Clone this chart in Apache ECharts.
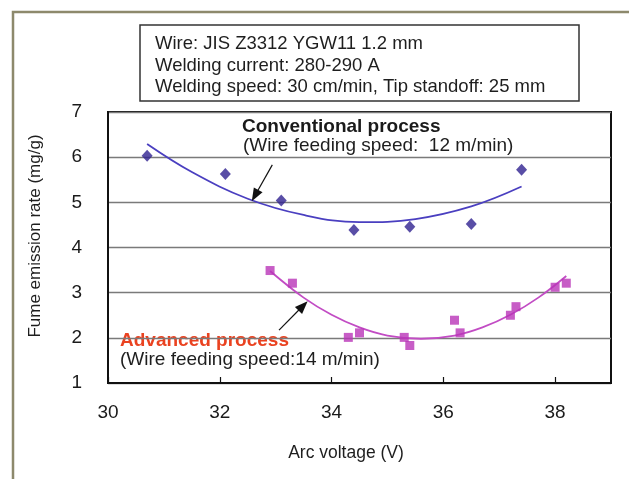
<!DOCTYPE html>
<html>
<head>
<meta charset="utf-8">
<script src="https://cdn.jsdelivr.net/npm/echarts@6/dist/echarts.min.js"></script>
<style>
  html, body { margin: 0; padding: 0; background: #fff; }
  #chart { width: 629px; height: 479px; }
</style>
</head>
<body>
<div id="chart"></div>
<script>
// Measured fume emission, conventional process (12 m/min wire feed)
const voltageConv = [30.7, 32.1, 33.1, 34.4, 35.4, 36.5, 37.4];
const fumeConv    = [6.03, 5.63, 5.04, 4.39, 4.46, 4.52, 5.72];

// Measured fume emission, advanced process (14 m/min wire feed)
const voltageAdv = [32.9, 33.3, 34.3, 34.5, 35.3, 35.4, 36.2, 36.3, 37.2, 37.3, 38.0, 38.2];
const fumeAdv    = [3.49, 3.21, 2.01, 2.11, 2.01, 1.83, 2.39, 2.11, 2.50, 2.69, 3.12, 3.21];

// Trend curves through each data set
const trendConvX = [30.7, 31.5, 32.5, 33.5, 34.5, 35.5, 36.5, 37.4];
const trendConvY = [6.29, 5.67, 5.08, 4.72, 4.56, 4.63, 4.91, 5.35];
const trendAdvX  = [32.9, 33.5, 34.0, 34.5, 35.0, 35.6, 36.2, 36.7, 37.2, 37.7, 38.2];
const trendAdvY  = [3.48, 2.89, 2.51, 2.23, 2.05, 1.98, 2.05, 2.23, 2.51, 2.89, 3.37];

// Axis ranges and tick spacing
const xRange = [30, 39], xStep = 2;
const yRange = [1, 7],   yStep = 1;

// Pointer arrows (start -> tip) in data units
const arrowConv = [[32.94, 5.83], [32.63, 5.15]];
const arrowAdv  = [[33.06, 2.17], [33.49, 2.71]];

const infoLines = [
  'Wire: JIS Z3312 YGW11 1.2 mm',
  'Welding current: 280-290 A',
  'Welding speed: 30 cm/min, Tip standoff: 25 mm'
];

const FONT = '"Liberation Sans", Arial, sans-serif';
const zip = (xs, ys) => xs.map((x, i) => [x, ys[i]]);

const chart = echarts.init(document.getElementById('chart'), null, { renderer: 'canvas' });

const arrowLine = (pts) => ({
  silent: true,
  symbol: ['none', 'triangle'],
  symbolSize: [10, 13],
  label: { show: false },
  lineStyle: { color: '#111', width: 1.2, type: 'solid' },
  data: [[{ coord: pts[0] }, { coord: pts[1] }]]
});

chart.setOption({
  animation: false,
  backgroundColor: '#ffffff',
  grid: {
    left: 108, right: 18, top: 112, bottom: 96,
    show: true, borderColor: '#111', borderWidth: 2, backgroundColor: 'transparent'
  },
  xAxis: {
    type: 'value', min: xRange[0], max: xRange[1], interval: xStep,
    axisLine: { lineStyle: { color: '#111', width: 2 } },
    axisTick: { inside: true, length: 6, lineStyle: { color: '#111', width: 1.2 } },
    axisLabel: { showMaxLabel: false, fontSize: 19, color: '#1a1a1a', fontFamily: FONT, margin: 20 },
    splitLine: { show: false }
  },
  yAxis: {
    type: 'value', min: yRange[0], max: yRange[1], interval: yStep,
    axisLine: { show: true, lineStyle: { color: '#111', width: 2 } },
    axisTick: { show: false },
    axisLabel: { fontSize: 19, color: '#1a1a1a', fontFamily: FONT, margin: 26 },
    splitLine: { lineStyle: { color: '#7a7a7a', width: 1.3 } }
  },
  series: [
    {
      name: 'Conventional trend', type: 'line', data: zip(trendConvX, trendConvY),
      smooth: 0.4, showSymbol: false, silent: true,
      lineStyle: { color: '#4a3fc0', width: 1.8 },
      markLine: arrowLine(arrowConv), z: 2
    },
    {
      name: 'Advanced trend', type: 'line', data: zip(trendAdvX, trendAdvY),
      smooth: 0.4, showSymbol: false, silent: true,
      lineStyle: { color: '#c24cc4', width: 1.8 },
      markLine: arrowLine(arrowAdv), z: 2
    },
    {
      name: 'Conventional process', type: 'scatter', data: zip(voltageConv, fumeConv),
      symbol: 'diamond', symbolSize: [11, 12],
      itemStyle: { color: '#2f2290' }, z: 3
    },
    {
      name: 'Advanced process', type: 'scatter', data: zip(voltageAdv, fumeAdv),
      symbol: 'rect', symbolSize: 9,
      itemStyle: { color: '#b934b8' }, z: 3
    }
  ],
  graphic: [
    // outer frame
    { type: 'rect', shape: { x: 13, y: 12, width: 700, height: 600 },
      style: { fill: 'none', stroke: '#8d896c', lineWidth: 2.5 }, silent: true },
    // conditions box
    { type: 'rect', shape: { x: 140, y: 25, width: 439, height: 76 },
      style: { fill: '#fff', stroke: '#333', lineWidth: 1.5 }, silent: true },
    ...infoLines.map((t, i) => ({
      type: 'text', x: 155, y: 44 + i * 21.5,
      style: { text: t, fontSize: 18.5, fontFamily: FONT, fill: '#1e1e1e', verticalAlign: 'middle' },
      silent: true
    })),
    // series annotations
    { type: 'text', x: 242, y: 127,
      style: { text: 'Conventional process', fontSize: 19, fontWeight: 'bold', fontFamily: FONT,
               fill: '#1a1a1a', verticalAlign: 'middle' }, silent: true },
    { type: 'text', x: 243, y: 145.5,
      style: { text: '(Wire feeding speed:  12 m/min)', fontSize: 19, fontFamily: FONT,
               fill: '#1e1e1e', verticalAlign: 'middle' }, silent: true },
    { type: 'text', x: 120, y: 340.5,
      style: { text: 'Advanced process', fontSize: 19, fontWeight: 'bold', fontFamily: FONT,
               fill: '#ea4220', verticalAlign: 'middle' }, silent: true },
    { type: 'text', x: 120, y: 360,
      style: { text: '(Wire feeding speed:14 m/min)', fontSize: 19, fontFamily: FONT,
               fill: '#1e1e1e', verticalAlign: 'middle' }, silent: true },
    // axis titles
    { type: 'text', x: 35, y: 236, rotation: Math.PI / 2,
      style: { text: 'Fume emission rate (mg/g)', fontSize: 17, fontFamily: FONT, fill: '#1e1e1e',
               align: 'center', verticalAlign: 'middle' }, silent: true },
    { type: 'text', x: 346, y: 453,
      style: { text: 'Arc voltage (V)', fontSize: 17.5, fontFamily: FONT, fill: '#1e1e1e',
               align: 'center', verticalAlign: 'middle' }, silent: true }
  ]
});
</script>
</body>
</html>
